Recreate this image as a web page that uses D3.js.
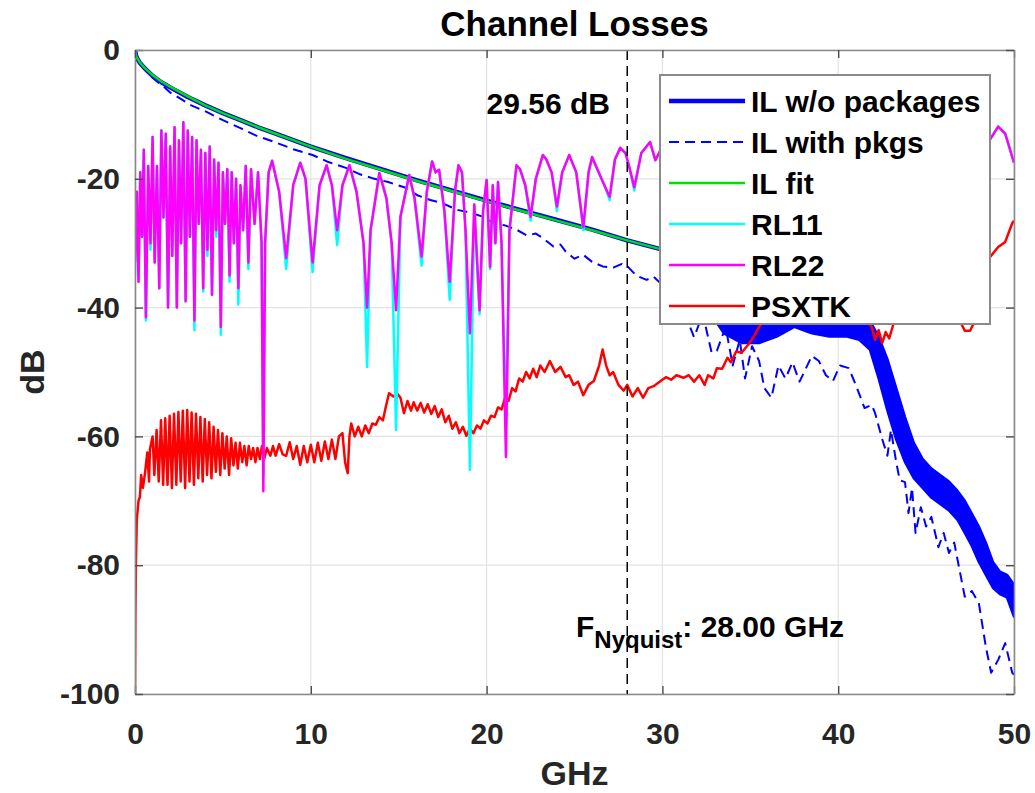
<!DOCTYPE html>
<html>
<head>
<meta charset="utf-8">
<script src="https://cdn.jsdelivr.net/npm/d3@7"></script>
<style>
  html, body { margin: 0; padding: 0; background: #fff; }
  svg { display: block; font-family: "Liberation Sans", Arial, Helvetica, sans-serif; }
</style>
</head>
<body>
<svg id="chart" width="1035" height="793"></svg>
<script>
// ---- axis ticks ----
const xTicks = [0, 10, 20, 30, 40, 50];
const yTicks = [-100, -80, -60, -40, -20, 0];

// ---- insertion loss without packages (smooth part) ----
const ilFreq = [0, 0.05, 0.1, 0.25, 0.5, 1, 1.5, 2, 3, 4, 5, 6, 7, 8, 9, 10, 12, 14, 16, 18, 20, 22, 24, 26, 28, 30, 31];
const ilNoPkg = [0, -0.8, -1.2, -1.9, -2.7, -4.0, -5.0, -5.8, -7.3, -8.6, -9.8, -10.9, -12.0, -13.0, -14.0, -15.0, -16.8, -18.5, -20.2, -21.8, -23.4, -24.9, -26.4, -27.9, -29.56, -31.0, -31.8];

// ---- insertion loss without packages above 30 GHz (rapid ripple band) ----
const ilBandFreq = [30.5, 31.5, 32.5, 33.5, 34.5, 35.5, 36.5, 37.5, 38.5, 39.5, 40.5, 41.2, 41.8, 42.3, 42.8, 43.3, 43.8, 44.3, 44.8, 45.3, 45.8, 46.3, 46.8, 47.2, 47.6, 48.0, 48.4, 48.8, 49.2, 49.6, 50.0];
const ilBandHi = [-31.5, -34, -36, -38, -39, -39, -38, -39, -39, -40, -40, -41, -42, -44.5, -48, -52.5, -57, -61, -63.5, -65, -66, -67, -68.5, -70, -72, -74, -76.5, -79.5, -81, -81.5, -83];
const ilBandLo = [-32.5, -37, -40, -44, -45.5, -45.5, -44.5, -43, -44, -44.5, -44.5, -45, -46.5, -51, -56, -60.5, -64, -66.5, -68, -69.5, -70.5, -71.5, -73, -75, -77, -79.5, -81.5, -83.5, -84.5, -85, -88];

// ---- insertion loss with packages ----
const pkgFreq = [0, 0.3, 0.6, 1.0, 1.25, 1.6, 2.0, 2.56, 3.2, 4.07, 5.0, 5.97, 6.9, 7.86, 9.0, 10.1, 11.0, 12.0, 12.8, 13.5, 14.4, 15.4, 16.1, 16.8, 17.5, 18.3, 19.0, 19.8, 20.4, 21.0, 21.7, 22.3, 22.8, 23.2, 23.8, 24.2, 24.5, 25.0, 25.5, 26.0, 26.6, 27.2, 27.7, 27.95, 28.5, 29.1, 29.5, 30.0, 31.0, 31.8, 32.3, 32.8, 33.1, 33.6, 34.0, 34.4, 34.7, 35.1, 35.5, 35.8, 36.2, 36.6, 37.0, 37.4, 37.8, 38.1, 38.5, 38.9, 39.3, 39.7, 40.1, 40.6, 41.0, 41.5, 41.9, 42.1, 42.5, 42.8, 43.0, 43.3, 43.5, 43.8, 44.0, 44.2, 44.4, 44.7, 45.0, 45.3, 45.7, 46.0, 46.3, 46.6, 46.9, 47.2, 47.6, 48.0, 48.4, 48.7, 49.1, 49.5, 49.9, 50.0];
const ilWithPkg = [0, -2.2, -3.2, -4.3, -4.9, -5.6, -6.6, -7.5, -8.6, -9.6, -10.9, -12.1, -13.3, -14.2, -15.4, -16.3, -17.4, -18.3, -19.3, -19.9, -20.5, -21.4, -22.6, -23.3, -23.8, -24.8, -25.2, -25.9, -26.9, -27.2, -27.9, -28.8, -28.5, -29.2, -30.5, -30.2, -31.3, -32.4, -31.8, -32.9, -33.6, -33.8, -33.2, -33.4, -35, -35.7, -35.2, -36.5, -39, -44.6, -41, -47, -46.7, -43, -49, -45, -51, -46, -48.3, -52.5, -54, -49, -51, -48.5, -51.5, -49.8, -47.5, -48.3, -50.5, -51.4, -49, -49.4, -52, -55.6, -55.1, -56.4, -60.4, -63, -59, -64, -66.8, -67.1, -71.9, -68, -75, -71, -74, -72.5, -77.2, -75, -78.1, -76.5, -80.7, -84.9, -84, -85.9, -92.7, -96.7, -94.7, -92.1, -96.7, -97];

// ---- insertion loss fit ----
const fitFreq = [0, 0.05, 0.1, 0.25, 0.5, 1, 1.5, 2, 3, 4, 5, 6, 7, 8, 9, 10, 12, 14, 16, 18, 20, 22, 24, 26, 28, 30, 30.8];
const ilFit = [0, -0.8, -1.1, -1.85, -2.67, -3.9, -4.9, -5.7, -7.2, -8.6, -9.8, -10.9, -12.0, -13.0, -14.0, -15.0, -16.9, -18.6, -20.3, -21.9, -23.5, -25.0, -26.5, -28.0, -29.56, -31.0, -31.6];

// ---- return losses ----
const rlFreq = [0.00, 0.10, 0.20, 0.30, 0.40, 0.50, 0.62, 0.75, 0.88, 1.00, 1.12, 1.25, 1.38, 1.50, 1.62, 1.75, 1.88, 2.00, 2.12, 2.25, 2.38, 2.50, 2.62, 2.75, 2.88, 3.00, 3.12, 3.25, 3.38, 3.50, 3.62, 3.75, 3.88, 4.00, 4.12, 4.25, 4.38, 4.50, 4.62, 4.75, 4.88, 5.00, 5.12, 5.25, 5.38, 5.50, 5.62, 5.75, 5.88, 6.00, 6.15, 6.30, 6.45, 6.60, 6.80, 7.00, 7.20, 7.30, 7.40, 7.60, 7.80, 8.20, 8.60, 9.00, 9.40, 9.70, 10.10, 10.50, 10.90, 11.20, 11.50, 11.80, 12.20, 12.60, 13.00, 13.20, 13.40, 13.90, 14.30, 14.60, 14.85, 15.10, 15.60, 15.90, 16.30, 16.60, 16.90, 17.10, 17.30, 17.60, 17.90, 18.20, 18.40, 18.60, 18.80, 19.05, 19.30, 19.60, 19.80, 20.00, 20.20, 20.35, 20.50, 20.65, 20.85, 21.10, 21.30, 21.70, 21.90, 22.20, 22.50, 22.80, 23.20, 23.40, 23.70, 24.00, 24.30, 24.70, 25.10, 25.50, 25.80, 26.00, 26.30, 26.70, 27.00, 27.30, 27.60, 27.90, 28.10, 28.40, 28.80, 29.30, 29.60, 30.0, 31, 32, 33, 34, 35, 36, 37, 38, 39, 40, 41, 42, 43, 44, 45, 46, 47, 48, 48.5, 49.1, 49.5, 50];
const rl11 = [-35, -22, -36, -19, -29, -15.5, -42, -18, -31, -13.5, -33, -18, -37, -12.5, -26, -13, -40, -15, -32, -12, -40, -14, -30, -11.2, -39, -12.5, -29, -13.5, -43.5, -14, -27, -15.5, -37.5, -16, -32, -15, -38, -17, -29, -17.5, -44.2, -19, -27, -18.5, -36, -19, -30, -20, -39.5, -21, -28, -18, -34, -18.5, -27, -19, -30, -66, -30, -19, -17.2, -22, -34, -21, -17.5, -20, -34.5, -21, -17.9, -21, -30.3, -21, -17.9, -22, -30, -49.2, -28, -19.1, -23, -30, -59, -25.9, -19.4, -23, -33.5, -22, -17.3, -19, -18.6, -25, -38.8, -22, -17.9, -19, -28, -65.2, -24, -41, -25, -20.2, -34, -21, -30, -20.5, -30, -58, -28, -17.9, -18.5, -21, -26.5, -20, -16.3, -17, -19, -25, -19, -16.3, -19, -28, -19, -16.6, -18.5, -21, -23.3, -17, -15.2, -16, -18, -21.8, -16, -14.3, -17.1, -15, -22, -14, -20, -13, -21, -13, -20, -12.5, -19, -12, -20, -12, -19, -12, -18, -12, -18, -13, -14.5, -11.9, -13, -17.5];
const rl22 = [-33, -22, -36, -19, -29, -15.5, -41.5, -18, -30, -13.5, -33, -18, -37, -12.5, -26, -13, -40, -15, -32, -12, -40, -14, -30, -11.2, -39, -12.5, -29, -13.5, -42, -14, -27, -15.5, -37, -16, -31, -15, -38, -17, -28, -17.5, -43, -19, -27, -18.5, -35, -19, -30, -20, -37, -21, -28, -18, -33, -18.5, -27, -19, -30, -68.5, -30, -19, -17.2, -22, -32.3, -21, -17.5, -20, -33, -21, -17.9, -21, -28, -21, -17.9, -22, -30, -40, -28, -19.1, -23, -30, -40.4, -25.9, -19.4, -23, -32.1, -22, -17.3, -19, -18.6, -25, -36, -22, -17.9, -19, -28, -44, -24, -40.4, -25, -20.2, -33.7, -21, -30, -20.5, -30, -63.2, -28, -17.9, -18.5, -21, -25.9, -20, -16.3, -17, -19, -24.3, -19, -16.3, -19, -27.5, -19, -16.6, -18.5, -21, -22.8, -17, -15.2, -16, -18, -21.3, -16, -14.3, -17.1, -15, -22, -14, -20, -13, -21, -13, -20, -12.5, -19, -12, -20, -12, -19, -12, -18, -12, -18, -13, -14.5, -11.9, -13, -17.5];

// ---- power-sum crosstalk ----
const xtFreq = [0.00, 0.02, 0.05, 0.10, 0.20, 0.28, 0.35, 0.45, 0.57, 0.70, 0.80, 0.85, 1.00, 1.10, 1.23, 1.35, 1.48, 1.60, 1.72, 1.85, 1.97, 2.10, 2.22, 2.35, 2.47, 2.60, 2.72, 2.85, 2.97, 3.10, 3.22, 3.35, 3.47, 3.60, 3.72, 3.85, 3.97, 4.10, 4.22, 4.35, 4.47, 4.60, 4.72, 4.85, 4.97, 5.10, 5.22, 5.35, 5.47, 5.60, 5.72, 5.85, 5.97, 6.10, 6.22, 6.35, 6.47, 6.60, 6.72, 6.85, 6.97, 7.10, 7.22, 7.35, 7.50, 7.70, 7.85, 8.00, 8.20, 8.40, 8.60, 8.80, 9.00, 9.20, 9.40, 9.60, 9.80, 10.00, 10.20, 10.40, 10.60, 10.80, 11.00, 11.20, 11.40, 11.60, 11.80, 11.95, 12.10, 12.20, 12.30, 12.50, 12.70, 12.90, 13.10, 13.30, 13.50, 13.70, 13.90, 14.10, 14.30, 14.45, 14.70, 14.90, 15.10, 15.30, 15.50, 15.70, 15.85, 16.05, 16.25, 16.45, 16.65, 16.85, 17.05, 17.25, 17.45, 17.65, 17.85, 18.05, 18.25, 18.45, 18.65, 18.85, 19.05, 19.25, 19.45, 19.65, 19.85, 20.05, 20.25, 20.45, 20.65, 20.85, 21.05, 21.25, 21.45, 21.65, 21.85, 22.05, 22.25, 22.45, 22.65, 22.85, 23.05, 23.30, 23.60, 23.90, 24.20, 24.50, 24.70, 24.95, 25.20, 25.50, 25.80, 26.10, 26.40, 26.60, 26.80, 27.00, 27.20, 27.50, 27.80, 28.00, 28.30, 28.60, 28.90, 29.20, 29.50, 29.90, 30.20, 30.50, 30.80, 31.20, 31.50, 31.80, 32.10, 32.40, 32.60, 32.90, 33.10, 33.40, 33.70, 33.90, 34.20, 34.50, 34.90, 35.20, 35.50, 35.80, 36.5, 37.5, 38.5, 39.5, 40.5, 41.5, 41.9, 42.1, 42.3, 42.5, 42.7, 42.9, 43.2, 44, 45, 46, 47, 47.2, 47.5, 47.7, 48.0, 48.5, 49.1, 49.5, 49.9, 50.0];
const psxtk = [-100, -88, -80, -73, -70, -69.4, -66, -68, -65.7, -62.5, -67, -62, -60, -66, -59, -67, -57.5, -67.5, -57.2, -67.5, -56.8, -68, -56.5, -67.5, -56.2, -67, -56, -68, -55.9, -67, -56.3, -67.5, -56.5, -66.5, -57, -67, -57.3, -66, -57.8, -66.5, -58.5, -65.5, -59, -66, -59.5, -65, -60, -66, -60.3, -64.5, -61, -65, -61, -64, -61.5, -64.5, -61.5, -63.5, -61.8, -64, -61.8, -63.5, -61.5, -63.5, -61.8, -63, -61.5, -63, -61.2, -62.8, -63, -60.9, -63.5, -61.5, -64.4, -61.5, -64, -61.3, -64, -61, -63.8, -60.8, -63.5, -60.5, -63.5, -60, -59.5, -64, -65.7, -60, -58, -60, -58.5, -60, -58.3, -59.5, -58, -58.2, -57, -57.5, -55, -53.3, -53.8, -53.3, -54, -56.4, -54.5, -56, -54.7, -56, -54.8, -56.3, -55, -56.5, -55.3, -57, -55.8, -57.8, -56.8, -58.8, -57.8, -59.5, -58.5, -59.9, -58.8, -59.5, -58.3, -58.8, -57.5, -58, -56.8, -57, -55.5, -55.8, -54, -54.5, -52.5, -53, -51, -51.5, -50, -51, -49.5, -50.8, -49, -50, -48.3, -50, -49.2, -50.8, -50.5, -52, -51.5, -53.6, -52, -51.4, -49, -46.5, -49, -50.5, -50, -52, -52.9, -52, -53.8, -52.5, -54, -52.5, -52.2, -51.4, -50.8, -51.2, -50.5, -50.9, -50.5, -51.5, -50.5, -52, -50.5, -51, -49.4, -49.5, -47.8, -48.5, -46.8, -47, -45.7, -44.5, -43, -42, -41, -40, -41.5, -40, -41, -41.5, -43, -45, -43.5, -45.5, -43.8, -44.8, -42, -40, -39, -40.5, -42.5, -43.6, -43.6, -42.5, -37, -32.6, -30.6, -29.8, -26.9, -26.5];

// ---- legend entries ----
const legendLabels = ["IL w/o packages", "IL with pkgs", "IL fit", "RL11", "RL22", "PSXTK"];

const nyquistGHz = 28.0;
const ilAtNyquist = 29.56;

// ---- layout ----
const svg = d3.select("#chart");
const W = 1035, H = 793;
const margin = { left: 135, right: 1014, top: 50, bottom: 694 };
const font = '"Liberation Sans", Arial, Helvetica, sans-serif';
const ink = "#262626";

svg.append("rect").attr("width", W).attr("height", H).attr("fill", "#fff");

const x = d3.scaleLinear().domain([0, 50]).range([margin.left, margin.right]);
const y = d3.scaleLinear().domain([-100, 0]).range([margin.bottom, margin.top]);

// grid
const grid = svg.append("g").attr("stroke", "#e3e3e3").attr("stroke-width", 1.2);
xTicks.forEach(t => grid.append("line")
  .attr("x1", x(t)).attr("x2", x(t)).attr("y1", margin.top).attr("y2", margin.bottom));
yTicks.forEach(t => grid.append("line")
  .attr("x1", margin.left).attr("x2", margin.right).attr("y1", y(t)).attr("y2", y(t)));

// clip for data
svg.append("defs").append("clipPath").attr("id", "plotclip")
  .append("rect").attr("x", margin.left).attr("y", margin.top)
  .attr("width", margin.right - margin.left).attr("height", margin.bottom - margin.top);

const plot = svg.append("g").attr("clip-path", "url(#plotclip)");

const lineOf = (fs, vs) => d3.line()
  .x((d, i) => x(fs[i])).y((d, i) => y(vs[i]))(vs);

const BLUE = "#0000ff", GREEN = "#00e000", CYAN = "#00ffff", MAGENTA = "#ff00ff", RED = "#ff0000";

// IL without packages: smooth line plus ripple band
plot.append("path").attr("d", lineOf(ilFreq, ilNoPkg))
  .attr("fill", "none").attr("stroke", BLUE).attr("stroke-width", 4.5).attr("stroke-linejoin", "round");
const band = d3.area()
  .x((d, i) => x(ilBandFreq[i]))
  .y0((d, i) => y(ilBandLo[i]))
  .y1((d, i) => y(ilBandHi[i]));
plot.append("path").attr("d", band(ilBandFreq))
  .attr("fill", BLUE).attr("stroke", BLUE).attr("stroke-width", 2.5).attr("stroke-linejoin", "round");

// IL with packages (dashed)
plot.append("path").attr("d", lineOf(pkgFreq, ilWithPkg))
  .attr("fill", "none").attr("stroke", BLUE).attr("stroke-width", 2)
  .attr("stroke-dasharray", "10,6").attr("stroke-linejoin", "round");

// IL fit
plot.append("path").attr("d", lineOf(fitFreq, ilFit))
  .attr("fill", "none").attr("stroke", GREEN).attr("stroke-width", 2.5);

// PSXTK
plot.append("path").attr("d", lineOf(xtFreq, psxtk))
  .attr("fill", "none").attr("stroke", RED).attr("stroke-width", 2.5).attr("stroke-linejoin", "round");

// RL11, RL22
plot.append("path").attr("d", lineOf(rlFreq, rl11))
  .attr("fill", "none").attr("stroke", CYAN).attr("stroke-width", 2.5).attr("stroke-linejoin", "round");
plot.append("path").attr("d", lineOf(rlFreq, rl22))
  .attr("fill", "none").attr("stroke", MAGENTA).attr("stroke-width", 2.5).attr("stroke-linejoin", "round");

// Nyquist marker
svg.append("line")
  .attr("x1", x(nyquistGHz)).attr("x2", x(nyquistGHz))
  .attr("y1", margin.top).attr("y2", margin.bottom)
  .attr("stroke", "#000").attr("stroke-width", 1.5).attr("stroke-dasharray", "10,6");

// axes (box with inward ticks); plain hyphen for negative labels
const axisColor = "#8a8a8a";
const tickText = d => String(d);
function styleAxis(g) {
  g.select(".domain").attr("stroke", axisColor).attr("stroke-width", 1.6);
  g.selectAll(".tick line").attr("stroke", "#4d4d4d").attr("stroke-width", 1.4);
  g.selectAll("text").attr("fill", ink).attr("font-family", font)
    .attr("font-weight", "bold").attr("font-size", 30);
}
svg.append("g").attr("transform", `translate(0,${margin.bottom})`)
  .call(d3.axisBottom(x).tickValues(xTicks).tickFormat(tickText).tickSizeInner(-8).tickSizeOuter(0).tickPadding(29))
  .call(styleAxis);
svg.append("g").attr("transform", `translate(${margin.left},0)`)
  .call(d3.axisLeft(y).tickValues(yTicks).tickFormat(tickText).tickSizeInner(-8).tickSizeOuter(0).tickPadding(15))
  .call(styleAxis);
svg.append("g").attr("transform", `translate(0,${margin.top})`)
  .call(d3.axisTop(x).tickValues(xTicks).tickSizeInner(-8).tickSizeOuter(0).tickFormat(""))
  .call(styleAxis);
svg.append("g").attr("transform", `translate(${margin.right},0)`)
  .call(d3.axisRight(y).tickValues(yTicks).tickSizeInner(-8).tickSizeOuter(0).tickFormat(""))
  .call(styleAxis);

// annotations
svg.append("text").attr("x", x(20)).attr("y", 114)
  .attr("font-family", font).attr("font-weight", "bold").attr("font-size", 30).attr("fill", "#000")
  .text(`${ilAtNyquist.toFixed(2)} dB`);

const nyq = svg.append("text").attr("x", 576).attr("y", 637)
  .attr("font-family", font).attr("font-weight", "bold").attr("font-size", 30).attr("fill", "#000");
nyq.append("tspan").text("F");
nyq.append("tspan").attr("dy", 11).attr("font-size", 24).text("Nyquist");
nyq.append("tspan").attr("dy", -11).text(`: ${nyquistGHz.toFixed(2)} GHz`);

// title and axis labels
svg.append("text").attr("x", (margin.left + margin.right) / 2).attr("y", 36)
  .attr("text-anchor", "middle").attr("font-family", font).attr("font-weight", "bold")
  .attr("font-size", 35).attr("fill", "#000").text("Channel Losses");
svg.append("text").attr("x", (margin.left + margin.right) / 2).attr("y", 785)
  .attr("text-anchor", "middle").attr("font-family", font).attr("font-weight", "bold")
  .attr("font-size", 34).attr("fill", ink).text("GHz");
svg.append("text").attr("transform", `translate(44,${(margin.top + margin.bottom) / 2}) rotate(-90)`)
  .attr("text-anchor", "middle").attr("font-family", font).attr("font-weight", "bold")
  .attr("font-size", 34).attr("fill", ink).text("dB");

// legend
const lg = svg.append("g");
lg.append("rect").attr("x", 660).attr("y", 75).attr("width", 330).attr("height", 249)
  .attr("fill", "#fff").attr("stroke", "#8a8a8a").attr("stroke-width", 2);
const legendStyles = [
  { color: BLUE, width: 4.5, dash: null },
  { color: BLUE, width: 2, dash: "10,6" },
  { color: GREEN, width: 2.5, dash: null },
  { color: CYAN, width: 2.5, dash: null },
  { color: MAGENTA, width: 2.5, dash: null },
  { color: RED, width: 2.5, dash: null }
];
legendLabels.forEach((lab, i) => {
  const cy = 101 + i * 41;
  const s = legendStyles[i];
  lg.append("line").attr("x1", 669).attr("x2", 745).attr("y1", cy).attr("y2", cy)
    .attr("stroke", s.color).attr("stroke-width", s.width)
    .attr("stroke-dasharray", s.dash);
  lg.append("text").attr("x", 751).attr("y", cy + 11)
    .attr("font-family", font).attr("font-weight", "bold").attr("font-size", 30)
    .attr("fill", "#000").text(lab);
});
</script>
</body>
</html>
